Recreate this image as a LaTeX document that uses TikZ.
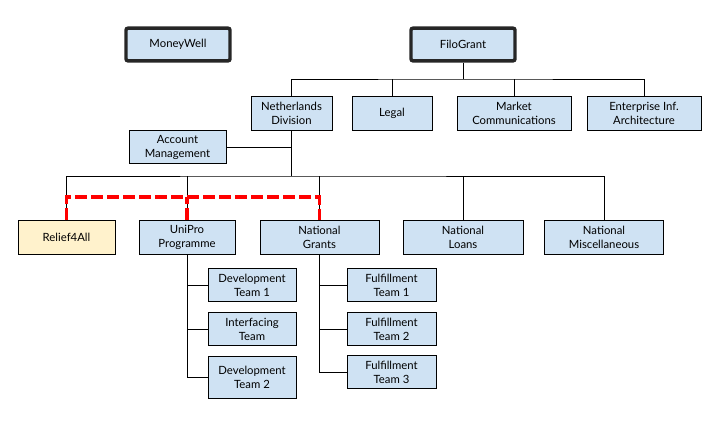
\documentclass[tikz,border=0pt]{standalone}
\usepackage{fontspec}
\setmainfont{Lato}
\definecolor{boxblue}{HTML}{CFE2F3}
\definecolor{boxyellow}{HTML}{FFF2CC}
\definecolor{redline}{HTML}{FF0000}
\begin{document}
\begin{tikzpicture}[x=0.75pt,y=-0.75pt,
  every node/.style={font=\fontsize{8.5}{10.5}\selectfont, align=center, inner sep=0pt},
  unit/.style={draw=black, line width=0.75pt, fill=boxblue, minimum height=25pt},
  topunit/.style={draw=black!85, line width=2.6pt, fill=boxblue, rounded corners=1.5pt,
                  minimum width=78pt, minimum height=24.5pt},
  link/.style={draw=black, line width=0.75pt},
  redlink/.style={draw=redline, line width=2.4pt, dash pattern=on 9pt off 3pt}]
\useasboundingbox (0,0) rectangle (720,430);

% top-level
\node[topunit] (money) at (178,44.5) {MoneyWell};
\node[topunit] (filo) at (463,44.5) {FiloGrant};

% level 2
\node[unit, minimum width=60.75pt] (nl) at (291.5,113.5) {Netherlands\\Division};
\node[unit, minimum width=60pt] (legal) at (392,113.5) {Legal};
\node[unit, minimum width=85.5pt] (mkt) at (514,113.5) {Market\\Communications};
\node[unit, minimum width=85.5pt] (ent) at (644,113.5) {Enterprise Inf.\\Architecture};
\node[unit, minimum width=72.75pt] (acct) at (177.5,147) {Account\\Management};

% level 3
\node[unit, fill=boxyellow, minimum width=72.75pt] (relief) at (66.5,237.5) {Relief4All};
\node[unit, minimum width=72pt] (unipro) at (187,237.5) {UniPro\\Programme};
\node[unit, minimum width=89.25pt] (grants) at (319.5,237.5) {National\\Grants};
\node[unit, minimum width=90pt] (loans) at (463,237.5) {National\\Loans};
\node[unit, minimum width=89.25pt] (misc) at (604,237.5) {National\\Miscellaneous};

% level 4
\node[unit, minimum width=66pt] (dev1) at (252,285) {Development\\Team 1};
\node[unit, minimum width=66pt] (inter) at (252,329) {Interfacing\\Team};
\node[unit, minimum width=66pt, minimum height=31.5pt] (dev2) at (252,377) {Development\\Team 2};
\node[unit, minimum width=66.75pt] (ful1) at (391.5,285) {Fulfillment\\Team 1};
\node[unit, minimum width=66.75pt] (ful2) at (391.5,329) {Fulfillment\\Team 2};
\node[unit, minimum width=66.75pt, minimum height=24.75pt] (ful3) at (391.5,372) {Fulfillment\\Team 3};

% bus coordinates
\coordinate (bus1) at (463,79);
\coordinate (bus2) at (291.5,176);
\coordinate (acctj) at (291.5,147);
\coordinate (redbus) at (187,197);

% FiloGrant to level 2
\draw[link] (filo.south) -- (bus1);
\draw[link] (nl.north) |- (bus1) -| (ent.north);
\draw[link] (legal.north) -- (legal.north |- bus1);
\draw[link] (mkt.north) -- (mkt.north |- bus1);

% Netherlands to level 3
\draw[link] (nl.south) -- (bus2);
\draw[link] (acct.east) -- (acctj);
\draw[link] (relief.north) |- (bus2) -| (misc.north);
\draw[link] (unipro.north) -- (unipro.north |- bus2);
\draw[link] (grants.north) -- (grants.north |- bus2);
\draw[link] (loans.north) -- (loans.north |- bus2);

% UniPro children
\draw[link] (unipro.south) |- (dev2.west);
\draw[link] (dev1.west) -- (dev1.west -| unipro.south);
\draw[link] (inter.west) -- (inter.west -| unipro.south);

% Grants children
\draw[link] (grants.south) |- (ful3.west);
\draw[link] (ful1.west) -- (ful1.west -| grants.south);
\draw[link] (ful2.west) -- (ful2.west -| grants.south);

% red dashed link
\draw[redlink] (relief.north) |- (redbus) -| (grants.north);
\draw[redlink] (unipro.north) -- (redbus);
\end{tikzpicture}
\end{document}
